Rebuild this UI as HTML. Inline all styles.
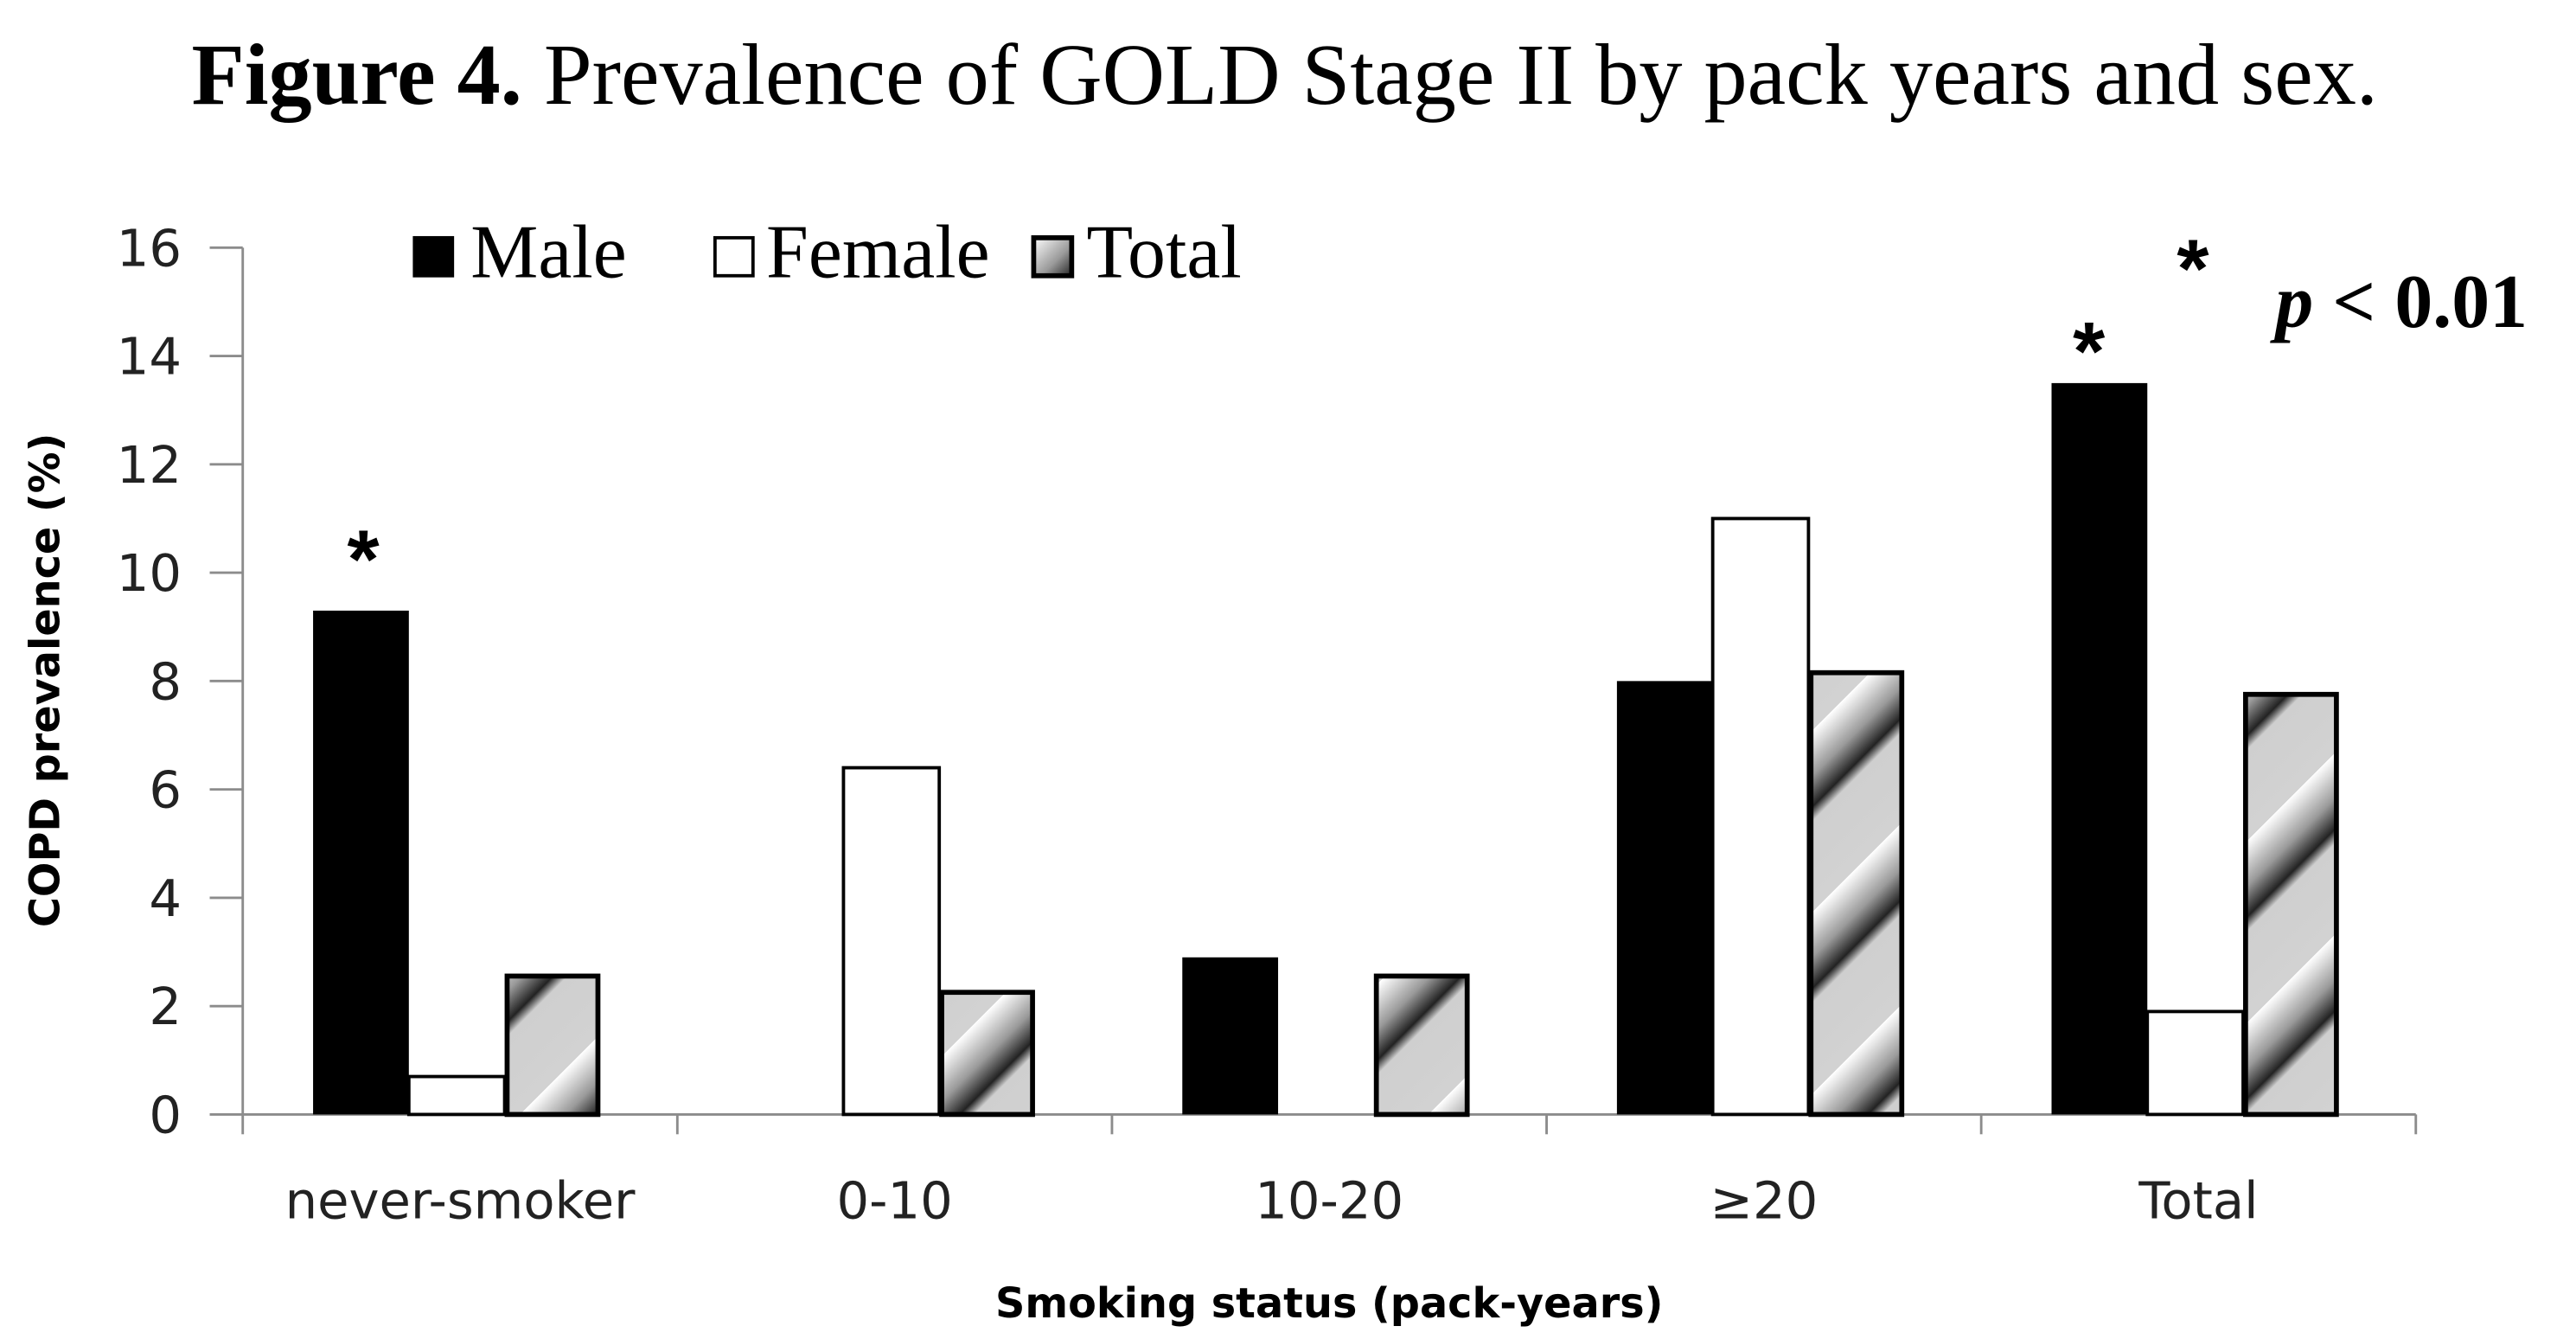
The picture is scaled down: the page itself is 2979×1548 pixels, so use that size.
<!DOCTYPE html>
<html><head><meta charset="utf-8"><style>
html,body{margin:0;padding:0;background:#fff;}
svg{display:block;}
</style></head><body>
<svg id="chart" width="2979" height="1548" viewBox="0 0 1560 811" preserveAspectRatio="none" xmlns="http://www.w3.org/2000/svg">
<defs>
<linearGradient id="hatch" x1="0" y1="0" x2="55" y2="55" gradientUnits="userSpaceOnUse" spreadMethod="repeat">
<stop offset="0" stop-color="#ffffff"/>
<stop offset="0.25" stop-color="#9a9a9a"/>
<stop offset="0.42" stop-color="#222222"/>
<stop offset="0.5" stop-color="#cfcfcf"/>
<stop offset="1" stop-color="#d2d2d2"/>
</linearGradient>
</defs>
<text x="778" y="63" text-anchor="middle" font-family="Liberation Serif, serif" font-size="52.5"><tspan font-weight="bold">Figure 4.</tspan> Prevalence of GOLD Stage II by pack years and sex.</text>
<g id="axes"></g>
<g id="bars"></g>
<g font-family="Liberation Serif, serif" font-size="46">
<rect x="250" y="143" width="25" height="25" fill="#000"/>
<text x="285" y="168">Male</text>
<rect x="433" y="144" width="23" height="23" fill="#fff" stroke="#000" stroke-width="2"/>
<text x="464" y="168">Female</text>
<rect x="626" y="144" width="23" height="23" fill="url(#hatch)" stroke="#000" stroke-width="3"/>
<text x="658" y="168">Total</text>
</g>
<text x="220" y="356" text-anchor="middle" font-family="Liberation Sans, sans-serif" font-weight="bold" font-size="50">*</text>
<text x="1265" y="230" text-anchor="middle" font-family="Liberation Sans, sans-serif" font-weight="bold" font-size="50">*</text>
<text x="1328" y="180" text-anchor="middle" font-family="Liberation Sans, sans-serif" font-weight="bold" font-size="50">*</text>
<text x="1378" y="198" font-family="Liberation Serif, serif" font-weight="bold" font-size="46"><tspan font-style="italic">p</tspan> &lt; 0.01</text>
<text transform="translate(36,412) rotate(-90)" text-anchor="middle" font-family="DejaVu Sans, sans-serif" font-weight="bold" font-size="25">COPD prevalence  (%)</text>
<text x="805" y="798" text-anchor="middle" font-family="DejaVu Sans, sans-serif" font-weight="bold" font-size="25">Smoking status (pack-years)</text>
</svg>
<script>
const categories = ["never-smoker", "0-10", "10-20", "\u226520", "Total"];
const maleValues = [9.3, 0, 2.9, 8.0, 13.5];
const femaleValues = [0.7, 6.4, 0, 11.0, 1.9];
const totalValues = [2.6, 2.3, 2.6, 8.2, 7.8];
const yTicks = [0, 2, 4, 6, 8, 10, 12, 14, 16];

const NS = "http://www.w3.org/2000/svg";
const X0 = 147, X1 = 1463, Y0 = 675, Y1 = 150, YMAX = 16;
const catW = (X1 - X0) / categories.length;
const barW = 58;
function yScale(v){ return Y0 - (v / YMAX) * (Y0 - Y1); }
function xCat(i){ return X0 + i * catW; }
function mk(tag, attrs, parent){
  const e = document.createElementNS(NS, tag);
  for (const k in attrs) e.setAttribute(k, attrs[k]);
  parent.appendChild(e);
  return e;
}
const axes = document.getElementById("axes");
const bars = document.getElementById("bars");
const axisColor = "#8c8c8c";

const yAxis = mk("line", {x1: X0, y1: Y1, x2: X0, y2: Y0, stroke: axisColor, "stroke-width": 1.5}, axes);


const xAxis = mk("line", {x1: X0, y1: Y0, x2: X1, y2: Y0, stroke: axisColor, "stroke-width": 1.5}, axes);



yTicks.forEach(function(t){
  const y = yScale(t);
  const tk = mk("line", {x1: X0 - 20, y1: y, x2: X0, y2: y, stroke: axisColor, "stroke-width": 1.5}, axes);
  
  
  const lb = mk("text", {x: 110, y: y + 11, "text-anchor": "end", "font-family": "DejaVu Sans, sans-serif", "font-size": 31, fill: "#222"}, axes);
  lb.textContent = t;
  
  
});

for (let i = 0; i <= categories.length; i++) {
  const x = xCat(i);
  const tk = mk("line", {x1: x, y1: Y0, x2: x, y2: Y0 + 12, stroke: axisColor, "stroke-width": 1.5}, axes);
  
  
}

categories.forEach(function(c, i){
  const lb = mk("text", {x: xCat(i) + catW / 2, y: 738, "text-anchor": "middle", "font-family": "DejaVu Sans, sans-serif", "font-size": 31, fill: "#222"}, axes);
  lb.textContent = c;
  
  

  const gx = xCat(i) + (catW - 3 * barW) / 2 - 2;
  const m = maleValues[i], f = femaleValues[i], t = totalValues[i];
  if (m > 0) {
    const r = mk("rect", {x: gx, y: yScale(m), width: barW, height: Y0 - yScale(m), fill: "#000"}, bars);
    
    
  }
  if (f > 0) {
    const r = mk("rect", {x: gx + barW, y: yScale(f), width: barW, height: Y0 - yScale(f), fill: "#fff", stroke: "#000", "stroke-width": 2}, bars);
    
    
  }
  if (t > 0) {
    const r = mk("rect", {x: gx + 2 * barW + 1.5, y: yScale(t) + 1.5, width: barW - 3, height: Y0 - yScale(t) - 1.5, fill: "url(#hatch)", stroke: "#000", "stroke-width": 3}, bars);
    
    
  }
});
</script>
</body></html>
